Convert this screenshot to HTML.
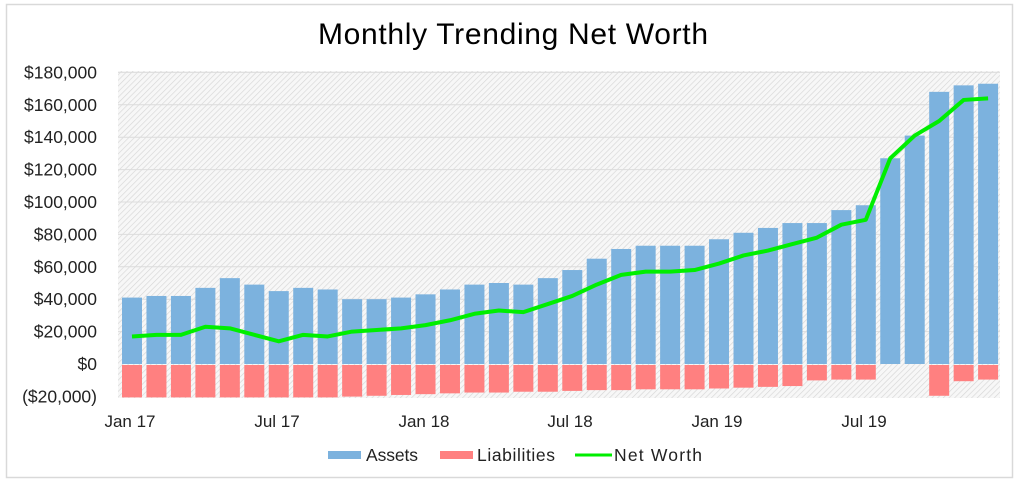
<!DOCTYPE html>
<html><head><meta charset="utf-8"><style>
html,body{margin:0;padding:0;background:#fff;}
svg{display:block;font-family:"Liberation Sans",sans-serif;}
</style></head><body>
<svg width="1024" height="485" viewBox="0 0 1024 485" xmlns="http://www.w3.org/2000/svg">
<defs>
<pattern id="h" width="4" height="4" patternUnits="userSpaceOnUse" patternTransform="rotate(45)">
<rect width="4" height="4" fill="#f7f7f7"/><line x1="0" y1="0" x2="0" y2="4" stroke="#d6d6d6" stroke-width="1.3"/>
</pattern>
</defs>
<rect x="0" y="0" width="1024" height="485" fill="#fff"/>
<rect x="6.5" y="4.5" width="1006" height="473" fill="#fff" stroke="#d9d9d9" stroke-width="1.5"/>
<text x="513" y="44" text-anchor="middle" font-size="30" fill="#000" textLength="390">Monthly Trending Net Worth</text>
<rect x="118" y="71" width="882" height="327" fill="url(#h)"/>
<g id="grid" stroke="#dcdcdc" stroke-width="1"></g>
<g id="labels" font-size="17.5" fill="#222" text-anchor="end"></g>
<g id="bars"></g>
<polyline id="nw" fill="none" stroke="#00ee00" stroke-width="4" stroke-linejoin="round"/>
<g font-size="17" fill="#222" text-anchor="middle">
<text x="130" y="427">Jan 17</text>
<text x="277" y="427">Jul 17</text>
<text x="424" y="427">Jan 18</text>
<text x="570" y="427">Jul 18</text>
<text x="717" y="427">Jan 19</text>
<text x="864" y="427">Jul 19</text>
</g>
<g font-size="17.5" fill="#222">
<rect x="328" y="451" width="33" height="8" fill="#7cb2de"/><text x="366" y="461" textLength="52">Assets</text>
<rect x="440" y="451" width="33" height="8" fill="#ff8080"/><text x="477" y="461" textLength="78">Liabilities</text>
<line x1="575" y1="455" x2="612" y2="455" stroke="#00ee00" stroke-width="3"/><text x="614" y="461" textLength="88">Net Worth</text>
</g>
</svg>
<script>
var A=[41,42,42,47,53,49,45,47,46,40,40,41,43,46,49,50,49,53,58,65,71,73,73,73,77,81,84,87,87,95,98,127,141,168,172,173];
var L=[20,20,20,20,20,20,20,20,20,19.5,19,18.5,18,17.5,17,17,16.5,16.5,16,15.5,15.5,15,15,15,14.5,14,13.5,13,9.5,9,9,0,0,19,10,9];
var N=[17,18,18,23,22,18,14,18,17,20,21,22,24,27,31,33,32,37,42,49,55,57,57,58,62,67,70,74,78,86,89,127,141,150,163,164];
var y0=364,k=1.62;
var ns="http://www.w3.org/2000/svg";
function el(t,a,p){var e=document.createElementNS(ns,t);for(var i in a)e.setAttribute(i,a[i]);p.appendChild(e);return e;}
var g=document.getElementById('grid'),lb=document.getElementById('labels'),b=document.getElementById('bars');
for(var v=-20;v<=180;v+=20){var y=y0-v*k;if(v>-20&&v!=0)el('line',{x1:118,x2:1000,y1:y,y2:y},g);
var t=el('text',{x:97,y:y+6},lb);t.textContent=v<0?'($20,000)':'$'+(v===0?'0':v+',000');}
var pts=[];
for(var i=0;i<36;i++){var x=122+i*24.46;
el('rect',{x:x,y:y0-A[i]*k,width:20,height:A[i]*k,fill:'#7cb2de'},b);
if(L[i]>0)el('rect',{x:x,y:y0+1,width:20,height:L[i]*k,fill:'#ff8080'},b);
pts.push((x+10)+','+(y0-N[i]*k));}
document.getElementById('nw').setAttribute('points',pts.join(' '));
</script>
</body></html>
